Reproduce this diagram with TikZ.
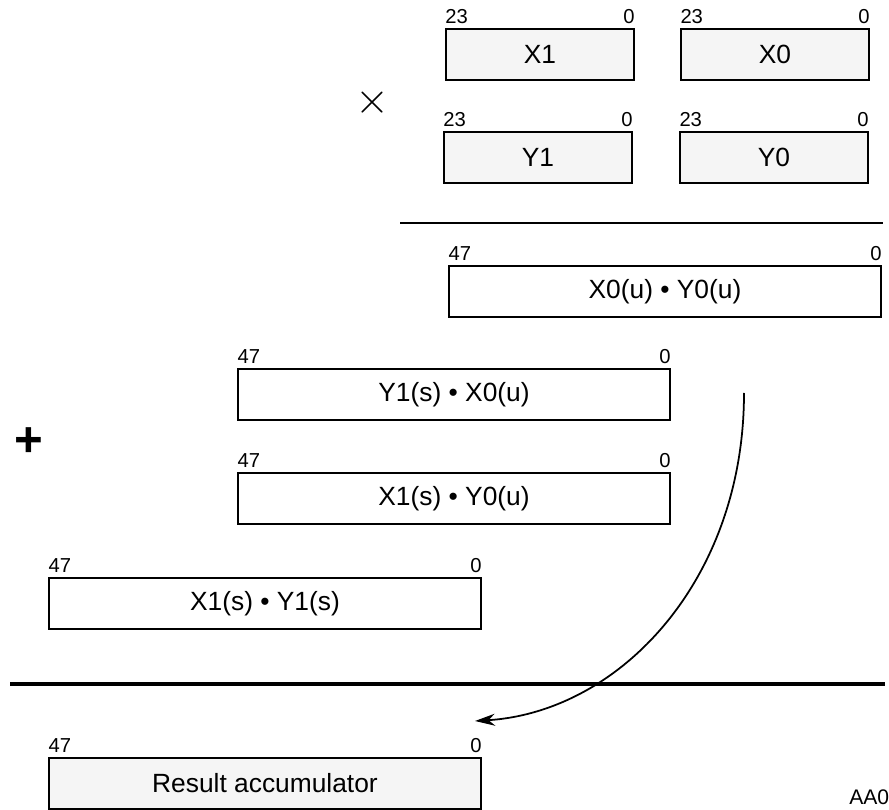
\documentclass[tikz,border=0pt]{standalone}
\usepackage{fontspec}
\setmainfont{Liberation Sans}
\usetikzlibrary{arrows.meta}

\begin{document}
\begin{tikzpicture}[x=0.02cm, y=-0.02cm,
    reg/.style={draw, line width=1pt, inner sep=0pt, minimum height=1.02cm,
        font=\fontsize{15}{17}\selectfont},
    half/.style={reg, fill=black!4, minimum width=3.76cm},
    full/.style={reg, minimum width=8.64cm},
    bitno/.style={inner sep=0pt, yshift=2.5pt, font=\fontsize{11.5}{13}\selectfont}]
    % Fix the page size
    \useasboundingbox (0,0) rectangle (889,810);

    % Operands, 24 bits each
    \node[half] (x1) at (540,54.5) {X1};
    \node[half] (x0) at (775,54.5) {X0};
    \node[half] (y1) at (538,157.5) {Y1};
    \node[half] (y0) at (774,157.5) {Y0};
    \node (times) at (372,103) {\fontsize{25}{25}\selectfont$\times$};

    % Thin rule under the operands
    \coordinate (ruleL) at (400,223);
    \coordinate (ruleR) at (883,223);
    \draw[line width=1pt] (ruleL) -- (ruleR);

    % Partial products, 48 bits each
    \node[full] (p00) at (665,291.5) {X0(u) • Y0(u)};
    \node[full] (p10) at (454,394.5) {Y1(s) • X0(u)};
    \node[full] (p01) at (454,498.5) {X1(s) • Y0(u)};
    \node[full] (p11) at (265,603.5) {X1(s) • Y1(s)};
    \node (plus) at (29,442) {\fontsize{28}{28}\selectfont\bfseries +};

    % Thick rule and the result
    \coordinate (sumL) at (10,684);
    \coordinate (sumR) at (885,684);
    \draw[line width=2.3pt] (sumL) -- (sumR);
    \node[half, minimum width=8.64cm] (acc) at (265,783.5) {Result accumulator};

    % Bit numbers above every register
    \foreach \r in {x1,x0,y1,y0} {
        \node[bitno, anchor=south west] at (\r.north west) {23};
        \node[bitno, anchor=south east] at (\r.north east) {0};
    }
    \foreach \r in {p00,p10,p01,p11,acc} {
        \node[bitno, anchor=south west] at (\r.north west) {47};
        \node[bitno, anchor=south east] at (\r.north east) {0};
    }

    % Sum goes into the accumulator
    \coordinate (from) at (744,393);
    \coordinate (into) at (475,721);
    \draw[line width=1pt, -{Stealth[length=4mm,width=2.4mm]}]
        (from) .. controls (744,580) and (620,712) .. (into);

    \node[anchor=west, inner sep=0pt, font=\fontsize{12}{14}\selectfont] (tag) at (849,797) {AA0};
\end{tikzpicture}
\end{document}
